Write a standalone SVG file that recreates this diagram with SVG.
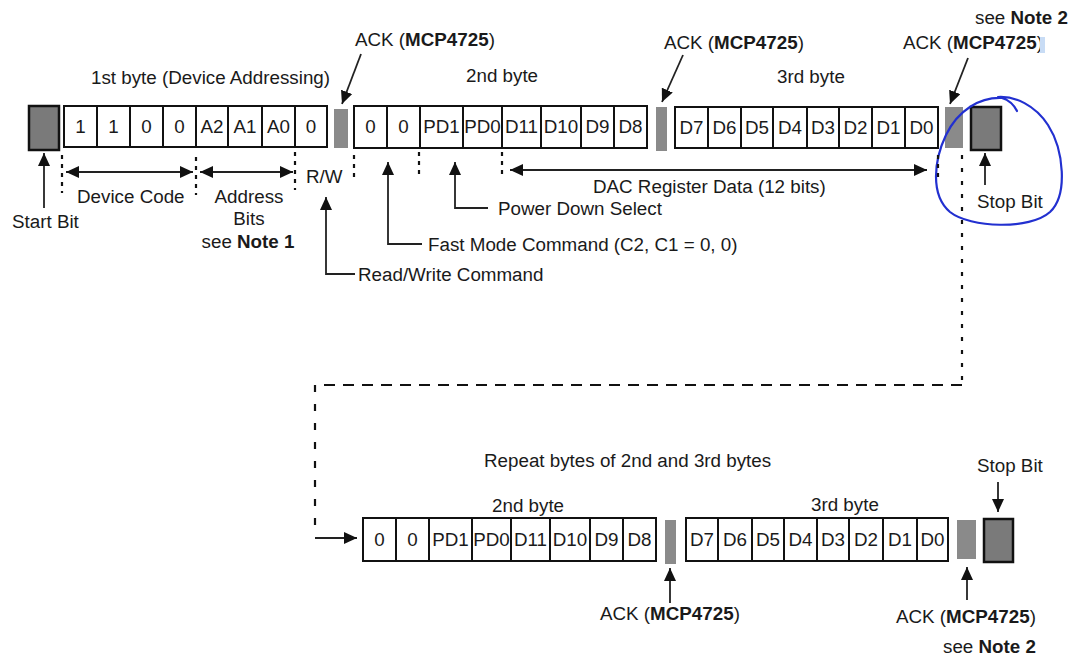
<svg xmlns="http://www.w3.org/2000/svg" width="1075" height="661" viewBox="0 0 1075 661">
<style>
text{font-family:"Liberation Sans",Arial,sans-serif;font-size:18.8px;fill:#1a1a1a}
.m{text-anchor:middle}
.b{font-weight:bold}
.cell{fill:#fff;stroke:#111;stroke-width:2}
.bit{fill:#7a7a7a;stroke:#111;stroke-width:2.5}
.ack{fill:#8a8a8a}
.ln{fill:none;stroke:#222;stroke-width:1.8}
.dot{fill:none;stroke:#111;stroke-width:2.2;stroke-dasharray:4 5}
.dash{fill:none;stroke:#111;stroke-width:2.2}
</style>
<defs>
<marker id="ah" markerUnits="userSpaceOnUse" markerWidth="14" markerHeight="12" refX="13" refY="6" orient="auto-start-reverse">
<path d="M0,0 L13,6 L0,12 z" fill="#111"/>
</marker>
</defs>
<rect width="1075" height="661" fill="#fff"/>

<g id="start-bit"><rect class="bit" x="29" y="106" width="30" height="44"/></g>

<g id="byte1">
<rect class="cell" x="64" y="106" width="33" height="41"/>
<rect class="cell" x="97" y="106" width="33" height="41"/>
<rect class="cell" x="130" y="106" width="33" height="41"/>
<rect class="cell" x="163" y="106" width="33" height="41"/>
<rect class="cell" x="196" y="106" width="32" height="41"/>
<rect class="cell" x="228" y="106" width="34" height="41"/>
<rect class="cell" x="262" y="106" width="33" height="41"/>
<rect class="cell" x="295" y="106" width="32" height="41"/>
<text class="m" x="80.5" y="133">1</text>
<text class="m" x="113.5" y="133">1</text>
<text class="m" x="146.5" y="133">0</text>
<text class="m" x="179.5" y="133">0</text>
<text class="m" x="212" y="133">A2</text>
<text class="m" x="245" y="133">A1</text>
<text class="m" x="278.5" y="133">A0</text>
<text class="m" x="311" y="133">0</text>
</g>

<g id="ack-1"><rect class="ack" x="334" y="109" width="14" height="39"/></g>

<g id="byte2">
<rect class="cell" x="354" y="106" width="33" height="42"/>
<rect class="cell" x="387" y="106" width="33" height="42"/>
<rect class="cell" x="420" y="106" width="43" height="42"/>
<rect class="cell" x="463" y="106" width="39" height="42"/>
<rect class="cell" x="502" y="106" width="39" height="42"/>
<rect class="cell" x="541" y="106" width="40" height="42"/>
<rect class="cell" x="581" y="106" width="33" height="42"/>
<rect class="cell" x="614" y="106" width="33" height="42"/>
<text class="m" x="370.5" y="133">0</text>
<text class="m" x="403.5" y="133">0</text>
<text class="m" x="441.5" y="133">PD1</text>
<text class="m" x="482.5" y="133">PD0</text>
<text class="m" x="521.5" y="133">D11</text>
<text class="m" x="561" y="133">D10</text>
<text class="m" x="597.5" y="133">D9</text>
<text class="m" x="630.5" y="133">D8</text>
</g>

<g id="ack-2"><rect class="ack" x="656" y="107" width="11" height="44"/></g>

<g id="byte3">
<rect class="cell" x="675" y="107" width="33" height="41"/>
<rect class="cell" x="708" y="107" width="33" height="41"/>
<rect class="cell" x="741" y="107" width="32" height="41"/>
<rect class="cell" x="773" y="107" width="34" height="41"/>
<rect class="cell" x="807" y="107" width="32" height="41"/>
<rect class="cell" x="839" y="107" width="33" height="41"/>
<rect class="cell" x="872" y="107" width="33" height="41"/>
<rect class="cell" x="905" y="107" width="33" height="41"/>
<text class="m" x="691.5" y="134">D7</text>
<text class="m" x="724.5" y="134">D6</text>
<text class="m" x="757" y="134">D5</text>
<text class="m" x="790" y="134">D4</text>
<text class="m" x="823" y="134">D3</text>
<text class="m" x="855.5" y="134">D2</text>
<text class="m" x="888.5" y="134">D1</text>
<text class="m" x="921.5" y="134">D0</text>
</g>

<g id="ack-3"><rect class="ack" x="945" y="107" width="18" height="41"/></g>
<g id="stop-bit"><rect class="bit" x="971" y="107" width="30" height="43"/></g>

<g id="labels-top">
<text x="91" y="84">1st byte (Device Addressing)</text>
<text x="466" y="82">2nd byte</text>
<text x="777" y="83">3rd byte</text>
<text x="355" y="46">ACK (<tspan class="b">MCP4725</tspan>)</text>
<text x="664" y="49">ACK (<tspan class="b">MCP4725</tspan>)</text>
<text x="903" y="49">ACK (<tspan class="b">MCP4725</tspan>)</text>
<rect x="1040" y="37" width="5" height="16" fill="#c8dcf5"/>
<text x="975" y="24">see <tspan class="b">Note 2</tspan></text>
<text x="77" y="203">Device Code</text>
<text class="m" x="249" y="203">Address</text>
<text class="m" x="249" y="225">Bits</text>
<text class="m" x="248" y="248">see <tspan class="b">Note 1</tspan></text>
<text x="306" y="183">R/W</text>
<text x="12" y="228">Start Bit</text>
<text x="498" y="215">Power Down Select</text>
<text x="428" y="251">Fast Mode Command (C2, C1 = 0, 0)</text>
<text x="358" y="281">Read/Write Command</text>
<text x="593" y="193">DAC Register Data (12 bits)</text>
<text x="977" y="208">Stop Bit</text>
</g>

<g id="highlight-circle">
<path d="M1017,111 Q1012,101 1002,98 C980,97 958,110 946,135 C934,160 930,195 950,212 C970,228 1030,230 1050,212 C1068,195 1064,150 1048,125 C1035,105 1015,96 998,97" fill="none" stroke="#2230d0" stroke-width="2.2" stroke-linecap="round"/>
</g>

<g id="repeat-label"><text x="484" y="467">Repeat bytes of 2nd and 3rd bytes</text></g>

<g id="bottom-byte2">
<text x="492" y="512">2nd byte</text>
<rect class="cell" x="363" y="518" width="33" height="43"/>
<rect class="cell" x="396" y="518" width="33" height="43"/>
<rect class="cell" x="429" y="518" width="43" height="43"/>
<rect class="cell" x="472" y="518" width="39" height="43"/>
<rect class="cell" x="511" y="518" width="39" height="43"/>
<rect class="cell" x="550" y="518" width="40" height="43"/>
<rect class="cell" x="590" y="518" width="33" height="43"/>
<rect class="cell" x="623" y="518" width="33" height="43"/>
<text class="m" x="379.5" y="546">0</text>
<text class="m" x="412.5" y="546">0</text>
<text class="m" x="450.5" y="546">PD1</text>
<text class="m" x="491.5" y="546">PD0</text>
<text class="m" x="530.5" y="546">D11</text>
<text class="m" x="570" y="546">D10</text>
<text class="m" x="606.5" y="546">D9</text>
<text class="m" x="639.5" y="546">D8</text>
</g>

<g id="bottom-ack-1"><rect class="ack" x="665" y="520" width="11" height="44"/></g>

<g id="bottom-byte3">
<text x="811" y="511">3rd byte</text>
<rect class="cell" x="686" y="518" width="32" height="43"/>
<rect class="cell" x="718" y="518" width="34" height="43"/>
<rect class="cell" x="752" y="518" width="32" height="43"/>
<rect class="cell" x="784" y="518" width="33" height="43"/>
<rect class="cell" x="817" y="518" width="32" height="43"/>
<rect class="cell" x="849" y="518" width="34" height="43"/>
<rect class="cell" x="883" y="518" width="34" height="43"/>
<rect class="cell" x="917" y="518" width="31" height="43"/>
<text class="m" x="702" y="546">D7</text>
<text class="m" x="735" y="546">D6</text>
<text class="m" x="768" y="546">D5</text>
<text class="m" x="800.5" y="546">D4</text>
<text class="m" x="833" y="546">D3</text>
<text class="m" x="866" y="546">D2</text>
<text class="m" x="900" y="546">D1</text>
<text class="m" x="932.5" y="546">D0</text>
</g>

<g id="bottom-ack-2"><rect class="ack" x="957" y="520" width="19" height="39"/></g>
<g id="bottom-stop-bit"><rect class="bit" x="984" y="519" width="29" height="43"/></g>

<g id="labels-bottom">
<text x="977" y="472">Stop Bit</text>
<text x="600" y="620">ACK (<tspan class="b">MCP4725</tspan>)</text>
<text x="896" y="623">ACK (<tspan class="b">MCP4725</tspan>)</text>
<text x="943" y="653">see <tspan class="b">Note 2</tspan></text>
</g>

<g id="connectors">
<line class="ln" x1="44" y1="208" x2="44" y2="153" marker-end="url(#ah)"/>
<line class="ln" x1="66" y1="172" x2="193" y2="172" marker-start="url(#ah)" marker-end="url(#ah)"/>
<line class="ln" x1="200" y1="172" x2="293" y2="172" marker-start="url(#ah)" marker-end="url(#ah)"/>
<polyline class="ln" points="355,274 326,274 326,197" marker-end="url(#ah)"/>
<polyline class="ln" points="422,244 388,244 388,162" marker-end="url(#ah)"/>
<polyline class="ln" points="488,208 455,208 455,162" marker-end="url(#ah)"/>
<line class="ln" x1="510" y1="170" x2="927" y2="170" marker-start="url(#ah)" marker-end="url(#ah)"/>
<line class="ln" x1="985" y1="185" x2="985" y2="153" marker-end="url(#ah)"/>
<line class="ln" x1="361" y1="54" x2="342" y2="104" marker-end="url(#ah)"/>
<line class="ln" x1="683" y1="55" x2="662" y2="102" marker-end="url(#ah)"/>
<line class="ln" x1="968" y1="58" x2="950" y2="104" marker-end="url(#ah)"/>
<line class="dot" x1="62" y1="155" x2="62" y2="193"/>
<line class="dot" x1="196" y1="157" x2="196" y2="195"/>
<line class="dot" x1="295" y1="152" x2="295" y2="190"/>
<line class="dot" x1="354" y1="155" x2="354" y2="180"/>
<line class="dot" x1="419" y1="152" x2="419" y2="178"/>
<line class="dot" x1="502" y1="152" x2="502" y2="178"/>
<line class="dot" x1="938" y1="155" x2="938" y2="182"/>
<line class="dash" x1="962" y1="155" x2="962" y2="385" stroke-dasharray="4 9"/>
<line class="dash" x1="962" y1="385" x2="316" y2="385" stroke-dasharray="11 8"/>
<line class="dash" x1="315" y1="385" x2="315" y2="532" stroke-dasharray="7 12"/>
<line class="ln" x1="315" y1="538" x2="357" y2="538" marker-end="url(#ah)"/>
<line class="ln" x1="670" y1="603" x2="670" y2="568" marker-end="url(#ah)"/>
<line class="ln" x1="967" y1="600" x2="967" y2="567" marker-end="url(#ah)"/>
<line class="ln" x1="998" y1="482" x2="998" y2="512" marker-end="url(#ah)"/>
</g>
</svg>
